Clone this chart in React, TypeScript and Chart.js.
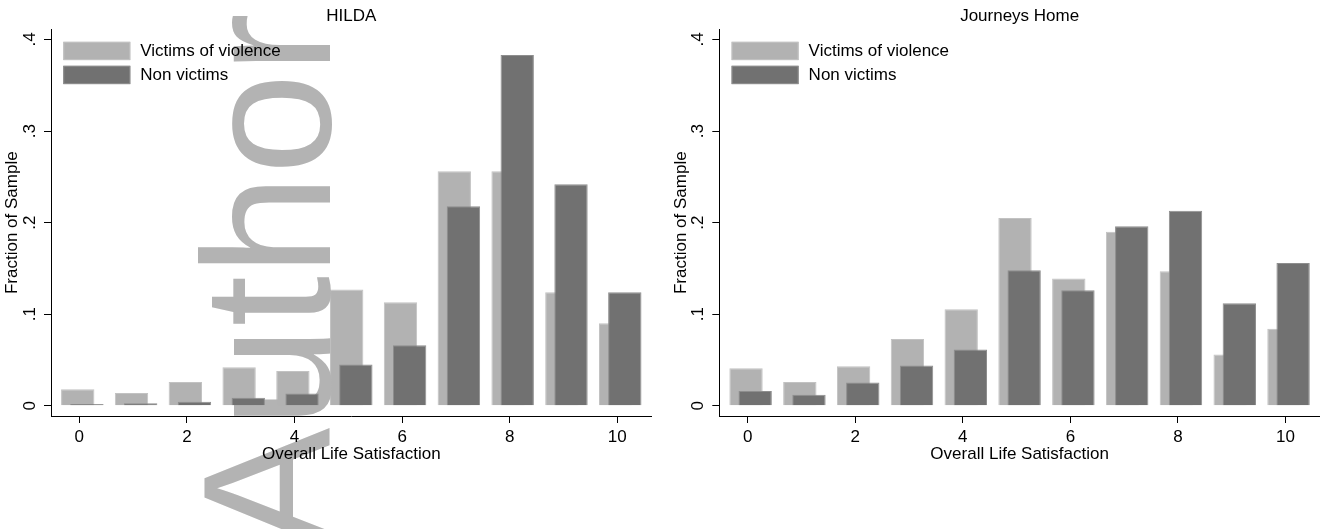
import React, { useEffect, useRef } from 'react';
import { Chart, registerables } from 'chart.js';

Chart.register(...registerables);

// ---------- data ----------
const CATEGORIES = [0, 1, 2, 3, 4, 5, 6, 7, 8, 9, 10];
const HILDA_VICTIMS = [0.018, 0.014, 0.026, 0.042, 0.038, 0.127, 0.113, 0.256, 0.256, 0.124, 0.09];
const HILDA_NON_VICTIMS = [0.002, 0.0026, 0.0044, 0.0087, 0.0135, 0.045, 0.066, 0.218, 0.383, 0.242, 0.124];
const JH_VICTIMS = [0.041, 0.026, 0.043, 0.073, 0.1055, 0.205, 0.139, 0.19, 0.147, 0.056, 0.084];
const JH_NON_VICTIMS = [0.016, 0.012, 0.0255, 0.044, 0.0615, 0.148, 0.126, 0.196, 0.213, 0.112, 0.156];
const X_TICKS = [0, 2, 4, 6, 8, 10];
const Y_TICKS = [0, 0.1, 0.2, 0.3, 0.4];
const Y_TICK_LABELS = ['0', '.1', '.2', '.3', '.4'];
const SERIES_LABELS = ['Victims of violence', 'Non victims'];
const PANEL_TITLES = ['HILDA', 'Journeys Home'];
const X_TITLE = 'Overall Life Satisfaction';
const Y_TITLE = 'Fraction of Sample';
const WATERMARK = 'Author';

// ---------- styling / geometry ----------
const FONT = "'Liberation Sans', Arial, Helvetica, sans-serif";
const FS = 17;
const X_MIN = -0.527;
const X_MAX = 10.64;
const Y_MIN = -0.0112;
const Y_MAX = 0.411;
const LIGHT_SHIFT = -0.03;
const DARK_SHIFT = 0.14;
const BAR_WIDTH = 0.62;
const LIGHT = '#b2b2b2';
const LIGHT_EDGE = '#c2c2c2';
const DARK = '#717171';
const DARK_EDGE = '#8e8e8e';

Chart.defaults.font.family = FONT;
Chart.defaults.color = '#000';

const legendPlugin = {
  id: 'stataLegend',
  afterDatasetsDraw(chart: any) {
    const { ctx, chartArea } = chart;
    const x0 = chartArea.left + 12.3;
    const y0 = chartArea.top + 12.4;
    const bw = 67;
    const bh = 18.3;
    chart.data.datasets.forEach((ds: any, i: number) => {
      const y = y0 + i * 24;
      ctx.save();
      ctx.fillStyle = ds.backgroundColor;
      ctx.fillRect(x0, y, bw, bh);
      ctx.strokeStyle = ds.borderColor;
      ctx.lineWidth = 1;
      ctx.strokeRect(x0 + 0.5, y + 0.5, bw - 1, bh - 1);
      ctx.fillStyle = '#000';
      ctx.font = `${FS}px ${FONT}`;
      ctx.textAlign = 'left';
      ctx.textBaseline = 'middle';
      ctx.fillText(ds.label, x0 + bw + 10, y + bh / 2 + 0.5);
      ctx.restore();
    });
  },
};

const watermarkPlugin = {
  id: 'watermark',
  afterDraw(chart: any, _args: any, opts: any) {
    if (!opts || !opts.text) return;
    const { ctx } = chart;
    ctx.save();
    ctx.globalCompositeOperation = 'darken';
    ctx.fillStyle = '#b3b3b3';
    ctx.font = `182px ${FONT}`;
    ctx.textAlign = 'left';
    ctx.textBaseline = 'alphabetic';
    ctx.translate(330, 549);
    ctx.rotate(-Math.PI / 2);
    ctx.fillText(opts.text, 0, 0);
    ctx.restore();
  },
};

function hiddenX(shift: number) {
  return {
    type: 'linear',
    axis: 'x',
    display: false,
    offset: false,
    min: X_MIN - shift,
    max: X_MAX - shift,
    grid: { offset: false },
    afterBuildTicks: (scale: any) => {
      scale.ticks = X_TICKS.map((v) => ({ value: v }));
    },
  };
}

function makeConfig(title: string, victims: number[], non: number[], padLeft: number, padRight: number, watermark: string) {
  return {
    type: 'bar',
    data: {
      datasets: [
        {
          label: SERIES_LABELS[0],
          data: CATEGORIES.map((c, i) => ({ x: c, y: victims[i] })),
          xAxisID: 'xl',
          yAxisID: 'y',
          backgroundColor: LIGHT,
          borderColor: LIGHT_EDGE,
          borderWidth: 1,
          borderSkipped: 'start',
          barPercentage: BAR_WIDTH,
          categoryPercentage: 1,
          grouped: false,
          order: 2,
        },
        {
          label: SERIES_LABELS[1],
          data: CATEGORIES.map((c, i) => ({ x: c, y: non[i] })),
          xAxisID: 'xd',
          yAxisID: 'y',
          backgroundColor: DARK,
          borderColor: DARK_EDGE,
          borderWidth: 1,
          borderSkipped: 'start',
          barPercentage: BAR_WIDTH,
          categoryPercentage: 1,
          grouped: false,
          order: 1,
        },
      ],
    },
    options: {
      animation: false,
      responsive: true,
      maintainAspectRatio: false,
      layout: { padding: { left: padLeft, right: padRight, top: 0, bottom: 66 } },
      plugins: {
        legend: { display: false },
        tooltip: { enabled: false },
        title: {
          display: true,
          text: title,
          fullSize: false,
          color: '#000',
          font: { size: FS, weight: 'normal', family: FONT, lineHeight: 1.2 },
          padding: { top: 6, bottom: 3 },
        },
        watermark: { text: watermark },
      },
      scales: {
        x: {
          type: 'linear',
          axis: 'x',
          position: 'bottom',
          offset: false,
          min: X_MIN,
          max: X_MAX,
          afterBuildTicks: (scale: any) => {
            scale.ticks = X_TICKS.map((v) => ({ value: v }));
          },
          ticks: {
            color: '#000',
            padding: 6,
            maxRotation: 0,
            minRotation: 0,
            autoSkip: false,
            font: { size: FS, family: FONT, lineHeight: 1 },
            callback: (v: any) => String(v),
          },
          grid: { drawOnChartArea: false, offset: false, tickLength: 7, color: '#000', tickWidth: 1 },
          border: { display: true, color: '#000', width: 1 },
          title: {
            display: true,
            text: X_TITLE,
            color: '#000',
            font: { size: FS, family: FONT, lineHeight: 1 },
            padding: { top: -6, bottom: 0 },
          },
        },
        xl: hiddenX(LIGHT_SHIFT),
        xd: hiddenX(DARK_SHIFT),
        y: {
          type: 'linear',
          position: 'left',
          min: Y_MIN,
          max: Y_MAX,
          afterBuildTicks: (scale: any) => {
            scale.ticks = Y_TICKS.map((v) => ({ value: v }));
          },
          ticks: {
            color: '#000',
            padding: 6.9,
            minRotation: 90,
            maxRotation: 90,
            crossAlign: 'center',
            autoSkip: false,
            font: { size: FS, family: FONT, lineHeight: 1 },
            callback: (v: any) => {
              const i = Y_TICKS.indexOf(Number(v));
              return i >= 0 ? Y_TICK_LABELS[i] : '';
            },
          },
          grid: { drawOnChartArea: false, tickLength: 7, color: '#000', tickWidth: 1 },
          border: { display: true, color: '#000', width: 1 },
          title: {
            display: true,
            text: Y_TITLE,
            color: '#000',
            font: { size: FS, family: FONT, lineHeight: 1 },
            padding: { top: 4.1, bottom: -7.9 },
          },
        },
      },
    },
    plugins: [legendPlugin, watermarkPlugin],
  } as any;
}

export default function App() {
  const leftRef = useRef<HTMLCanvasElement>(null);
  const rightRef = useRef<HTMLCanvasElement>(null);

  useEffect(() => {
    document.body.style.margin = '0';
    const c1 = new Chart(leftRef.current as HTMLCanvasElement, makeConfig(PANEL_TITLES[0], HILDA_VICTIMS, HILDA_NON_VICTIMS, 0, 8.3, WATERMARK));
    const c2 = new Chart(rightRef.current as HTMLCanvasElement, makeConfig(PANEL_TITLES[1], JH_VICTIMS, JH_NON_VICTIMS, 8.3, 0, ''));
    return () => {
      c1.destroy();
      c2.destroy();
    };
  }, []);

  return (
    <div style={{ position: 'absolute', left: 0, top: 0, width: 1320, height: 529, display: 'flex', background: '#fff' }}>
      <div style={{ position: 'relative', width: 660, height: 529 }}>
        <canvas ref={leftRef} />
      </div>
      <div style={{ position: 'relative', width: 660, height: 529 }}>
        <canvas ref={rightRef} />
      </div>
    </div>
  );
}
